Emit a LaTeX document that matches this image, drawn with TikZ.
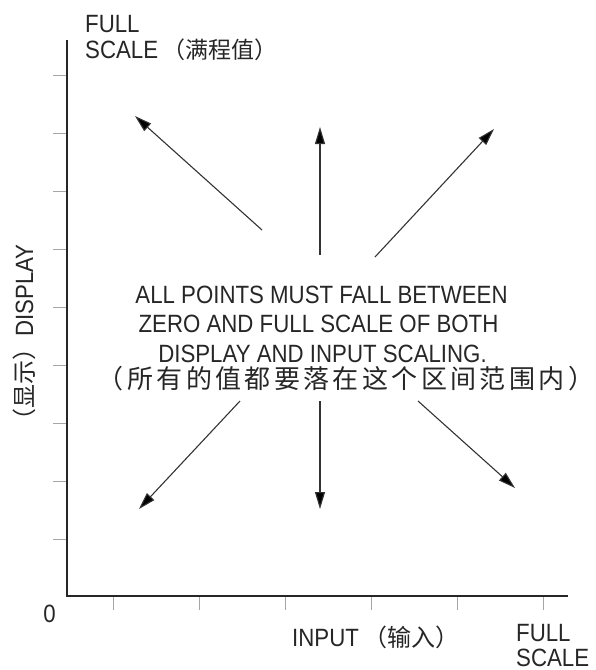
\documentclass[tikz,border=0pt]{standalone}
\usepackage{fontspec}
\setmainfont{Liberation Sans}[FakeStretch=0.89]
\newfontfamily\cjk{Noto Sans CJK SC}
\newfontfamily\cjkwide{Noto Sans CJK SC}[LetterSpace=13]
\usetikzlibrary{arrows.meta}
\begin{document}
\begin{tikzpicture}[x=1pt,y=-1pt,
  axis/.style={line width=2.4pt,color=black!85},
  tick/.style={line width=0.9pt,color=black!35},
  arr/.style={line width=1.1pt,color=black!80,-{Triangle[length=17pt,width=10pt,fill=black]}},
  lbl/.style={inner sep=0pt,font=\fontsize{25}{27}\selectfont,text=black!85}]
\useasboundingbox (0,0) rectangle (595,670);
% axes
\coordinate (top) at (67,40);
\coordinate (orig) at (67,596);
\coordinate (right) at (568,596);
\draw[axis] (top) -- (orig) -- (right);
% y ticks
\foreach \y in {75,133,191,249,307,365,423,481,539}
  \draw[tick] (53,\y) -- (66,\y);
% x ticks
\foreach \x in {113,199,285,371,457,543}
  \draw[tick] (\x,597) -- (\x,610);
% labels
\node[lbl,anchor=base west] (ytop1) at (85,32) {FULL};
\node[lbl,anchor=base west] (ytop2) at (85,58) {SCALE\,{\cjk\fontsize{23}{27}\selectfont （满程值）}};
\node[lbl,anchor=base] (zero) at (49.5,622) {0};
\node[lbl,anchor=base west] (xin) at (292,646) {INPUT\,{\cjk\fontsize{24}{27}\selectfont （输入）}};
\node[lbl,anchor=base west] (xfs1) at (516,641) {FULL};
\node[lbl,anchor=base west] (xfs2) at (516,666) {SCALE};
\node[lbl,rotate=90] (ylab) at (24,338.5) {{\cjk\fontsize{24}{27}\selectfont （显示）}DISPLAY};
% centre text
\node[lbl,anchor=base] (msg1) at (321.5,303) {ALL POINTS MUST FALL BETWEEN};
\node[lbl,anchor=base] (msg2) at (318.5,332) {ZERO AND FULL SCALE OF BOTH};
\node[lbl,anchor=base] (msg3) at (322.5,362) {DISPLAY AND INPUT SCALING.};
\node[lbl,anchor=base,font=\cjkwide\fontsize{26}{28}\selectfont] (msg4) at (346,388) {（所有的值都要落在这个区间范围内）};
% arrows
\coordinate (ul0) at (262,230); \coordinate (ul1) at (135,116);
\coordinate (u0) at (320,255);  \coordinate (u1) at (320,127);
\coordinate (ur0) at (375,257); \coordinate (ur1) at (494,129);
\coordinate (dl0) at (240,401); \coordinate (dl1) at (139,509);
\coordinate (d0) at (320,401);  \coordinate (d1) at (320,509);
\coordinate (dr0) at (418,401); \coordinate (dr1) at (515,488);
\draw[arr] (ul0) -- (ul1);
\draw[arr] (u0) -- (u1);
\draw[arr] (ur0) -- (ur1);
\draw[arr] (dl0) -- (dl1);
\draw[arr] (d0) -- (d1);
\draw[arr] (dr0) -- (dr1);
\end{tikzpicture}
\end{document}
